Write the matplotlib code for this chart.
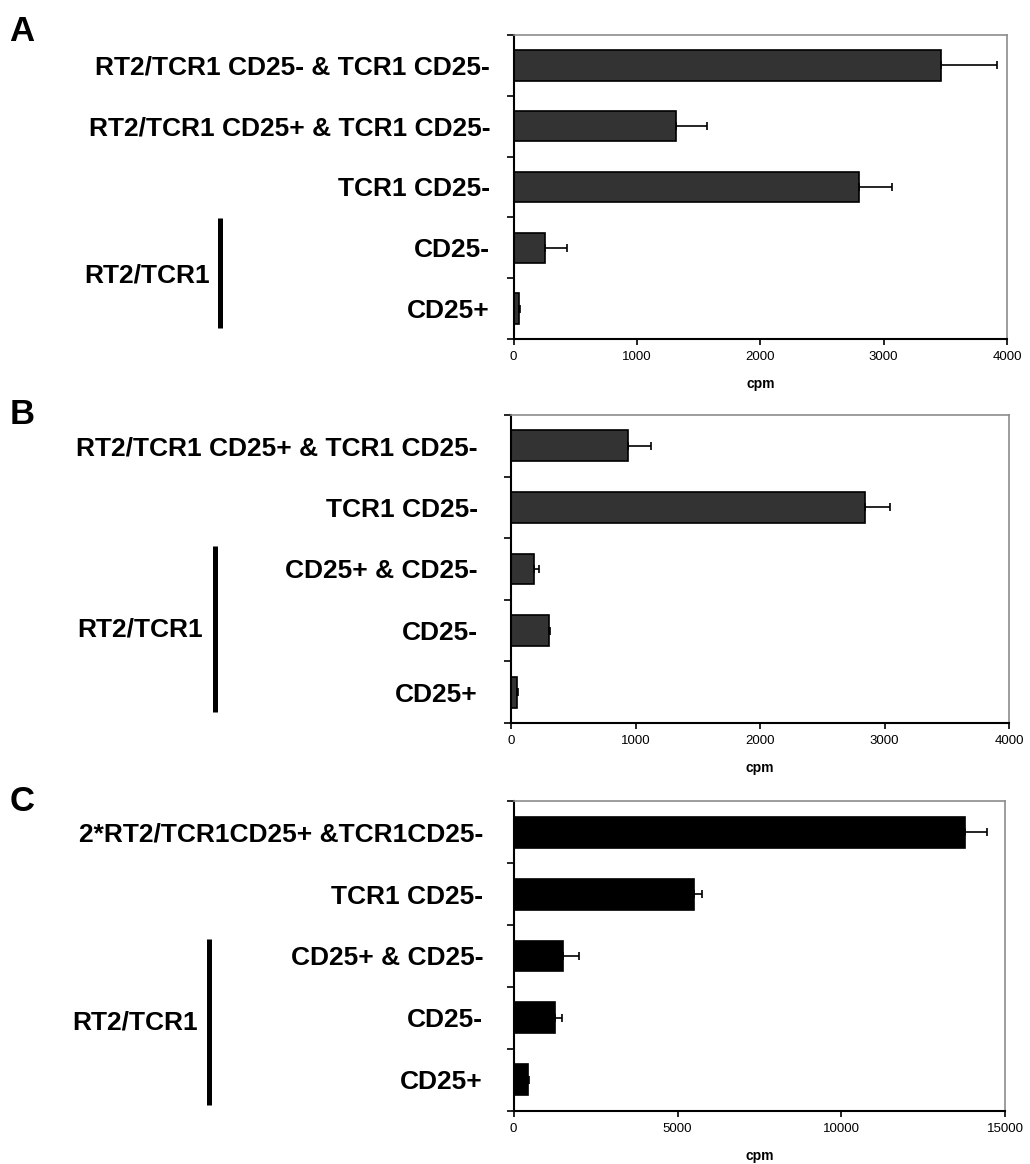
"""Proliferation (cpm) of sorted RT2/TCR1 and TCR1 subsets, three co-culture panels."""

import matplotlib

matplotlib.use("Agg")
import matplotlib.pyplot as plt
import matplotlib.transforms as mtransforms

plt.rcParams["font.family"] = ["Liberation Sans", "DejaVu Sans"]

# --- data ------------------------------------------------------------------
labels_a = [
    "RT2/TCR1 CD25- & TCR1 CD25-",
    "RT2/TCR1 CD25+ & TCR1 CD25-",
    "TCR1 CD25-",
    "CD25-",
    "CD25+",
]
cpm_a = [3468, 1318, 2798, 254, 40]
err_a = [454, 251, 268, 178, 10]

labels_b = [
    "RT2/TCR1 CD25+ & TCR1 CD25-",
    "TCR1 CD25-",
    "CD25+ & CD25-",
    "CD25-",
    "CD25+",
]
cpm_b = [938, 2840, 185, 303, 46]
err_b = [185, 201, 35, 8, 10]

labels_c = [
    "2*RT2/TCR1CD25+ &TCR1CD25-",
    "TCR1 CD25-",
    "CD25+ & CD25-",
    "CD25-",
    "CD25+",
]
cpm_c = [13760, 5510, 1515, 1260, 427]
err_c = [690, 245, 470, 205, 40]

group_label = "RT2/TCR1"

# panel letter, rect, values, errors, labels, bar colour, xmax, xstep,
# label pad, bracket (x, y0, y1), group label (x, y), letter y
panels = [
    ("A", [0.4987, 0.7088, 0.479, 0.2612], cpm_a, err_a, labels_a, "#333333",
     4000, 1000, 17, (0.2136, 2.51, 4.32), (0.2039, 3.45), 0.987),
    ("B", [0.4964, 0.3789, 0.4832, 0.2646], cpm_b, err_b, labels_b, "#333333",
     4000, 1000, 24, (0.2087, 1.63, 4.32), (0.1970, 2.99), 0.658),
    ("C", [0.4987, 0.0458, 0.4773, 0.2658], cpm_c, err_c, labels_c, "black",
     15000, 5000, 22, (0.2029, 1.72, 4.40), (0.1922, 3.08), 0.326),
]

fig = plt.figure(figsize=(10.3, 11.64), dpi=100)

for (letter, rect, vals, errs, labels, color, xmax, xstep, pad,
     bracket, glabel, letter_y) in panels:
    ax = fig.add_axes(rect)
    n = len(vals)
    pos = list(range(n))
    ax.barh(pos, vals, height=0.5, color=color, edgecolor="black",
            linewidth=1.2, zorder=2)
    ax.errorbar(vals, pos, xerr=[[0] * n, errs], fmt="none", ecolor="black",
                elinewidth=1.2, capsize=3, capthick=1.2, zorder=3)

    ax.set_xlim(0, xmax)
    ax.set_ylim(n - 0.5, -0.5)
    ax.set_xticks(range(0, xmax + 1, xstep))
    ax.tick_params(axis="x", direction="out", length=4, width=1.2,
                   labelsize=9.5, pad=5)

    # boundary ticks on the category axis, labels sit between them
    ax.set_yticks([i - 0.5 for i in range(n + 1)])
    ax.set_yticklabels([])
    ax.tick_params(axis="y", which="major", direction="out", length=5,
                   width=1.2)
    ax.set_yticks(pos, labels, minor=True)
    ax.tick_params(axis="y", which="minor", length=0, pad=pad,
                   labelsize=19)
    for t in ax.get_yticklabels(minor=True):
        t.set_fontweight("bold")

    ax.set_xlabel("cpm", fontsize=10, fontweight="bold", labelpad=10)

    for side in ("left", "bottom"):
        ax.spines[side].set_linewidth(1.5)
        ax.spines[side].set_color("black")
    for side in ("top", "right"):
        ax.spines[side].set_linewidth(1.2)
        ax.spines[side].set_color("#8c8c8c")

    # group bracket for the RT2/TCR1 subsets
    trans = mtransforms.blended_transform_factory(fig.transFigure, ax.transData)
    bx, by0, by1 = bracket
    ax.plot([bx, bx], [by0, by1], color="black", lw=3.6, transform=trans,
            clip_on=False, solid_capstyle="butt")
    gx, gy = glabel
    ax.text(gx, gy, group_label, transform=trans, ha="right", va="center",
            fontsize=19, fontweight="bold")

    fig.text(0.009, letter_y, letter, fontsize=25, fontweight="bold",
             ha="left", va="top")

fig.savefig("out.png", dpi=100)
